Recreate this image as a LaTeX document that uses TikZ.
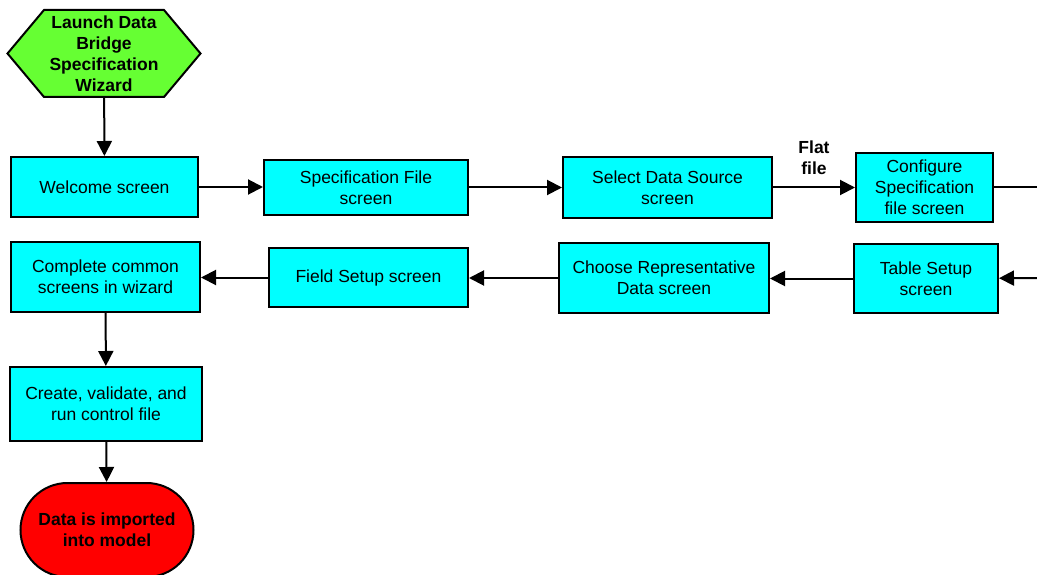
\documentclass[tikz,border=0pt]{standalone}
\usepackage{fontspec}
\setmainfont{Liberation Sans}
\usetikzlibrary{arrows.meta,shapes.misc,shapes.symbols}
\definecolor{screencyan}{HTML}{00FFFF}
\definecolor{startgreen}{HTML}{66FF33}
\definecolor{endred}{HTML}{FF0000}

\begin{document}
\begin{tikzpicture}[x=1pt,y=-1pt,
    screen/.style={draw,line width=2pt,fill=screencyan,align=center,
      inner sep=2pt,font=\fontsize{17.5}{21}\selectfont},
    flow/.style={line width=2pt,-{Triangle[length=15pt,width=15pt]}}]
  \useasboundingbox (0,0) rectangle (1037,575);
  % start and first row
  \node[screen,fill=startgreen,shape=signal,signal to=east and west,
    signal pointer angle=100,minimum width=193pt,minimum height=87pt,
    font=\fontsize{17.5}{21}\selectfont\bfseries] (launch) at (104,53.5)
    {Launch Data\\Bridge\\Specification\\Wizard};
  \node[screen,minimum width=187pt,minimum height=60pt] (welcome) at (104.5,187)
    {Welcome screen};
  \node[screen,minimum width=204pt,minimum height=55pt] (specfile) at (366,187.5)
    {Specification File\\screen};
  \node[screen,minimum width=209pt,minimum height=61pt] (select) at (667.5,187.5)
    {Select Data Source\\screen};
  \node[screen,minimum width=137pt,minimum height=69pt] (config) at (924.5,187.5)
    {Configure\\Specification\\file screen};
  % second row
  \node[screen,minimum width=144pt,minimum height=69pt] (table) at (926,278.5)
    {Table Setup\\screen};
  \node[screen,minimum width=210pt,minimum height=70pt] (choose) at (664,278)
    {Choose Representative\\Data screen};
  \node[screen,minimum width=199pt,minimum height=59pt] (field) at (368.5,277.5)
    {Field Setup screen};
  \node[screen,minimum width=189pt,minimum height=70pt] (common) at (105.5,277)
    {Complete common\\screens in wizard};
  % last steps
  \node[screen,minimum width=192pt,minimum height=74pt] (create) at (106,404)
    {Create, validate, and\\run control file};
  \node[screen,fill=endred,shape=rounded rectangle,minimum width=177pt,
    minimum height=94pt,font=\fontsize{17.5}{21}\selectfont\bfseries] (done)
    at (107,530) {Data is imported\\into model};
  \coordinate (outR) at (1037,187.5);
  \coordinate (inR) at (1037,278);
  \path[flow] (launch) edge (welcome)
    (welcome.east) edge (welcome.east -| specfile.west)
    (specfile.east) edge (specfile.east -| select.west)
    (select.east) edge node [above=8pt,align=center,
      font=\fontsize{17.5}{21}\selectfont\bfseries] (flat) {Flat\\file}
    (select.east -| config.west)
    (inR) edge (table)
    (table.west) edge (table.west -| choose.east)
    (choose.west) edge (choose.west -| field.east)
    (field.west) edge (field.west -| common.east)
    (common) edge (create)
    (create) edge (done);
  \draw[line width=2pt] (config.east) -- (outR);
\end{tikzpicture}
\end{document}
